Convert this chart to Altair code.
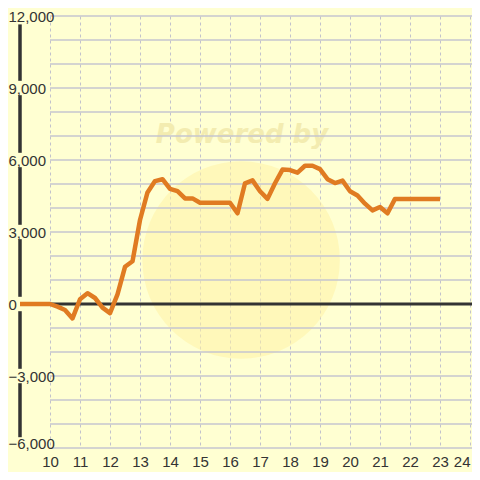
import altair as alt
import pandas as pd

hours = [9.0, 9.25, 9.5, 9.75, 10.0,
         10.25, 10.5, 10.75, 11.0, 11.25, 11.5, 11.75,
         12.0, 12.25, 12.5, 12.75, 13.0, 13.25, 13.5, 13.75,
         14.0, 14.25, 14.5, 14.75, 15.0, 15.25, 15.5, 15.75,
         16.0, 16.25, 16.5, 16.75, 17.0, 17.25, 17.5, 17.75,
         18.0, 18.25, 18.5, 18.75, 19.0, 19.25, 19.5, 19.75,
         20.0, 20.25, 20.5, 20.75, 21.0, 21.25, 21.5, 21.75,
         22.0, 22.25, 22.5, 22.75, 23.0]
values = [0, 0, 0, 0, 0,
          -110, -250, -600, 200, 450, 250, -150,
          -380, 400, 1550, 1780, 3500, 4650, 5120, 5200,
          4800, 4700, 4400, 4400, 4220, 4220, 4220, 4220,
          4220, 3780, 5030, 5150, 4700, 4380, 5030, 5600,
          5580, 5470, 5760, 5760, 5620, 5200, 5040, 5140,
          4700, 4520, 4180, 3900, 4040, 3780, 4380, 4380,
          4380, 4380, 4380, 4380, 4380]

x_ticks = [10, 11, 12, 13, 14, 15, 16, 17, 18, 19, 20, 21, 22, 23, 24]
y_ticks = [-6000, -3000, 0, 3000, 6000, 9000, 12000]
y_grid = [-6000, -5000, -4000, -3000, -2000, -1000, 0, 1000, 2000, 3000,
          4000, 5000, 6000, 7000, 8000, 9000, 10000, 11000, 12000]
# y-axis line pieces between the labels
axis_top = [11650, 8700, 5700, 2700, -300, -3300]
axis_bot = [9300, 6300, 3300, 300, -2700, -5550]

PLOT_W = 452
X_DOMAIN = [9, 24.0667]
Y_DOMAIN = [-6000, 12000]

df = pd.DataFrame({"hour": hours, "value": values})
grid_df = pd.DataFrame({"y": y_grid})
axis_df = pd.DataFrame({"y": axis_top, "y2": axis_bot})

xs = alt.Scale(domain=X_DOMAIN, nice=False, zero=False)
ys = alt.Scale(domain=Y_DOMAIN, nice=False, zero=False)

x_axis = alt.Axis(values=x_ticks, title=None, ticks=False, domain=False,
                  grid=True, gridColor="#c2c2cc", gridDash=[3, 3], gridWidth=1,
                  labelFont="Liberation Sans", labelFontSize=15, labelColor="#333333",
                  labelPadding=6, format="d", labelFlush=5, labelOverlap=False)
y_axis = alt.Axis(values=y_ticks, title=None, ticks=False, domain=False, grid=False,
                  labelFont="Liberation Sans", labelFontSize=15, labelColor="#333333",
                  labelAlign="left", labelPadding=12, format=",.0f", zindex=2,
                  labelOverlap=False,
                  labelBaseline={"condition": {"test": "datum.value <= -6000",
                                               "value": "alphabetic"},
                                 "value": "middle"})


def X(field):
    return alt.X(field, scale=xs, axis=x_axis)


def Y(field):
    return alt.Y(field, scale=ys, axis=y_axis)


circle = alt.Chart(pd.DataFrame({"x": [16.37], "y": [1833]})).mark_circle(
    size=39000, color="#fff3a6", opacity=0.55
).encode(x=X("x:Q"), y=Y("y:Q"))

wm_text = alt.Chart(pd.DataFrame({"x": [16.4], "y": [7050], "t": ["Powered by"]})).mark_text(
    font="DejaVu Sans", fontSize=26, fontWeight="bold", fontStyle="italic",
    color="#f3ecb0", baseline="middle", align="center"
).encode(x=X("x:Q"), y=Y("y:Q"), text="t:N")

hgrid = alt.Chart(grid_df).mark_rule(color="#c6c6cf", strokeWidth=1.3).encode(
    x=alt.datum(10, scale=xs, axis=x_axis), x2=alt.value(PLOT_W), y=Y("y:Q")
)

zero = alt.Chart(pd.DataFrame({"y": [0]})).mark_rule(color="#333333", strokeWidth=3).encode(
    x=alt.datum(9, scale=xs, axis=x_axis), x2=alt.value(PLOT_W), y=Y("y:Q")
)

yline = alt.Chart(axis_df).mark_rule(color="#333333", strokeWidth=3.5).encode(
    x=alt.datum(9, scale=xs, axis=x_axis), y=Y("y:Q"), y2="y2:Q"
)

line = alt.Chart(df).mark_line(color="#e07b22", strokeWidth=4.5, strokeJoin="round").encode(
    x=X("hour:Q"), y=Y("value:Q")
)

chart = alt.layer(circle, wm_text, hgrid, zero, line, yline).properties(
    width=PLOT_W, height=432,
    autosize=alt.AutoSizeParams(type="none"),
    padding={"left": 12, "top": 8, "right": 0, "bottom": 24},
    background="#ffffd2",
).configure_view(stroke=None)

chart.save("out.html", embed_options={"renderer": "svg", "actions": False})
